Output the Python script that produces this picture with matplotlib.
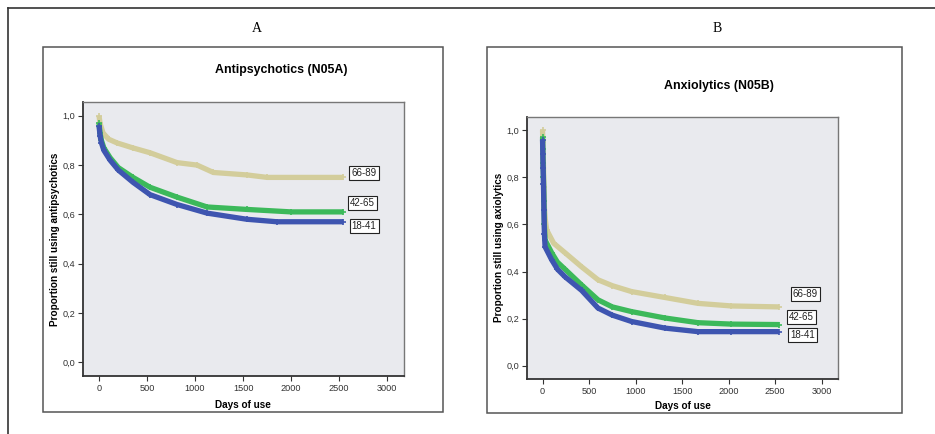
import matplotlib
matplotlib.use("Agg")
import matplotlib.pyplot as plt
from matplotlib.patches import Rectangle
from matplotlib.lines import Line2D

plt.rcParams['font.family'] = ['Liberation Sans', 'DejaVu Sans']

# ---------------- data ----------------
groups = ["18-41", "42-65", "66-89"]
colors = {"18-41": "#3e55b0", "42-65": "#3cb95a", "66-89": "#d3cd9b"}

# Panel A: Antipsychotics (N05A)
a_days_6689 = [0, 10, 42, 100, 187, 350, 531, 812, 1020, 1190, 1540, 1750, 2545]
a_prop_6689 = [1.0, 0.97, 0.93, 0.905, 0.89, 0.87, 0.85, 0.81, 0.80, 0.77, 0.76, 0.75, 0.75]
a_days_4265 = [0, 10, 25, 50, 115, 200, 354, 531, 812, 1125, 1540, 2000, 2545]
a_prop_4265 = [0.97, 0.93, 0.90, 0.87, 0.83, 0.79, 0.75, 0.71, 0.67, 0.63, 0.62, 0.61, 0.61]
a_days_1841 = [0, 10, 25, 50, 115, 200, 354, 531, 812, 1125, 1540, 1850, 2545]
a_prop_1841 = [0.96, 0.92, 0.89, 0.86, 0.82, 0.78, 0.73, 0.68, 0.64, 0.605, 0.58, 0.57, 0.57]

# Panel B: Anxiolytics (N05B)
b_days_6689 = [0, 3, 6, 10, 15, 20, 30, 45, 120, 241, 420, 596, 750, 957, 1315, 1670, 2030, 2540]
b_prop_6689 = [1.0, 0.95, 0.90, 0.85, 0.76, 0.67, 0.62, 0.576, 0.52, 0.48, 0.42, 0.365, 0.34, 0.315, 0.29, 0.265, 0.254, 0.25]
b_days_4265 = [0, 3, 6, 10, 15, 20, 27, 98, 160, 241, 420, 596, 750, 957, 1315, 1670, 2030, 2545]
b_prop_4265 = [0.97, 0.92, 0.86, 0.80, 0.70, 0.60, 0.534, 0.48, 0.44, 0.41, 0.343, 0.28, 0.25, 0.23, 0.203, 0.183, 0.177, 0.175]
b_days_1841 = [0, 3, 6, 10, 15, 20, 27, 98, 160, 241, 420, 596, 750, 957, 1315, 1670, 2030, 2540]
b_prop_1841 = [0.96, 0.90, 0.84, 0.77, 0.66, 0.56, 0.505, 0.45, 0.41, 0.378, 0.32, 0.245, 0.215, 0.188, 0.16, 0.145, 0.145, 0.145]

x_ticks = [0, 500, 1000, 1500, 2000, 2500, 3000]
y_ticks = [0.0, 0.2, 0.4, 0.6, 0.8, 1.0]
y_ticklabels = ["0,0", "0,2", "0,4", "0,6", "0,8", "1,0"]

# label positions (data coords)
a_label_pos = {"66-89": (2760, 0.768), "42-65": (2740, 0.646), "18-41": (2760, 0.553)}
b_label_pos = {"66-89": (2824, 0.305), "42-65": (2785, 0.208), "18-41": (2796, 0.131)}

W, H = 935, 434
fig = plt.figure(figsize=(W / 100, H / 100), dpi=100)
fig.patch.set_facecolor("white")


def fx(px):
    return px / W


def fy(py):
    return 1 - py / H


# outer frame: top and left lines
fig.add_artist(Line2D([fx(8), fx(935)], [fy(8), fy(8)], color="#333333", lw=1.2))
fig.add_artist(Line2D([fx(8), fx(8)], [fy(8), fy(434)], color="#333333", lw=1.2))

# inner boxes
for (x0, y0, x1, y1) in [(43, 47, 443, 412), (487, 47, 902, 413)]:
    fig.add_artist(Rectangle((fx(x0), fy(y1)), fx(x1) - fx(x0), fy(y0) - fy(y1),
                             transform=fig.transFigure, fill=False,
                             edgecolor="#555555", lw=1.1))

# panel letters
fig.text(fx(257), fy(28), "A", ha="center", va="center", fontsize=10,
         family=["Liberation Serif", "DejaVu Serif"])
fig.text(fx(717), fy(28), "B", ha="center", va="center", fontsize=10,
         family=["Liberation Serif", "DejaVu Serif"])


def make_panel(rect, series, title, title_xy, ylabel, ylabel_xy, xlabel_xy, label_pos):
    ax = fig.add_axes(rect)
    ax.set_facecolor("#e9eaee")
    for g in ["66-89", "42-65", "18-41"]:
        d, p = series[g]
        ax.plot(d, p, color=colors[g], lw=3.8, solid_capstyle="butt",
                solid_joinstyle="round",
                marker="+", markersize=5, markeredgewidth=1.2, zorder=3)
        lx, ly = label_pos[g]
        ax.text(lx, ly, g, ha="center", va="center", fontsize=7, color="#222222",
                bbox=dict(boxstyle="square,pad=0.22", fc="white", ec="#222222", lw=0.8))
    ax.set_xlim(-167, 3175)
    ax.set_ylim(-0.056, 1.056)
    ax.set_xticks(x_ticks)
    ax.set_yticks(y_ticks)
    ax.set_yticklabels(y_ticklabels)
    ax.tick_params(axis="both", labelsize=6.6, colors="#333333", length=3.5, width=0.8,
                   direction="out", pad=2)
    for s in ["left", "bottom"]:
        ax.spines[s].set_color("#333333")
        ax.spines[s].set_linewidth(1.3)
    for s in ["top", "right"]:
        ax.spines[s].set_color("#777777")
        ax.spines[s].set_linewidth(1.0)
    fig.text(fx(title_xy[0]), fy(title_xy[1]), title, ha="center", va="center",
             fontsize=8.9, fontweight="bold")
    fig.text(fx(ylabel_xy[0]), fy(ylabel_xy[1]), ylabel, ha="center", va="center",
             rotation=90, fontsize=7.2, fontweight="bold")
    fig.text(fx(xlabel_xy[0]), fy(xlabel_xy[1]), "Days of use", ha="center", va="center",
             fontsize=7.2, fontweight="bold")
    return ax


seriesA = {"66-89": (a_days_6689, a_prop_6689), "42-65": (a_days_4265, a_prop_4265),
           "18-41": (a_days_1841, a_prop_1841)}
seriesB = {"66-89": (b_days_6689, b_prop_6689), "42-65": (b_days_4265, b_prop_4265),
           "18-41": (b_days_1841, b_prop_1841)}

make_panel([fx(83), fy(376), fx(404) - fx(83), fy(102) - fy(376)], seriesA,
           "Antipsychotics (N05A)", (281, 70),
           "Proportion still using antipsychotics", (55, 239), (243, 405), a_label_pos)
make_panel([fx(527), fy(379), fx(838) - fx(527), fy(117) - fy(379)], seriesB,
           "Anxiolytics (N05B)", (719, 86),
           "Proportion still using axiolytics", (499, 247), (683, 406), b_label_pos)

fig.savefig("out.png", dpi=100, facecolor="white")
